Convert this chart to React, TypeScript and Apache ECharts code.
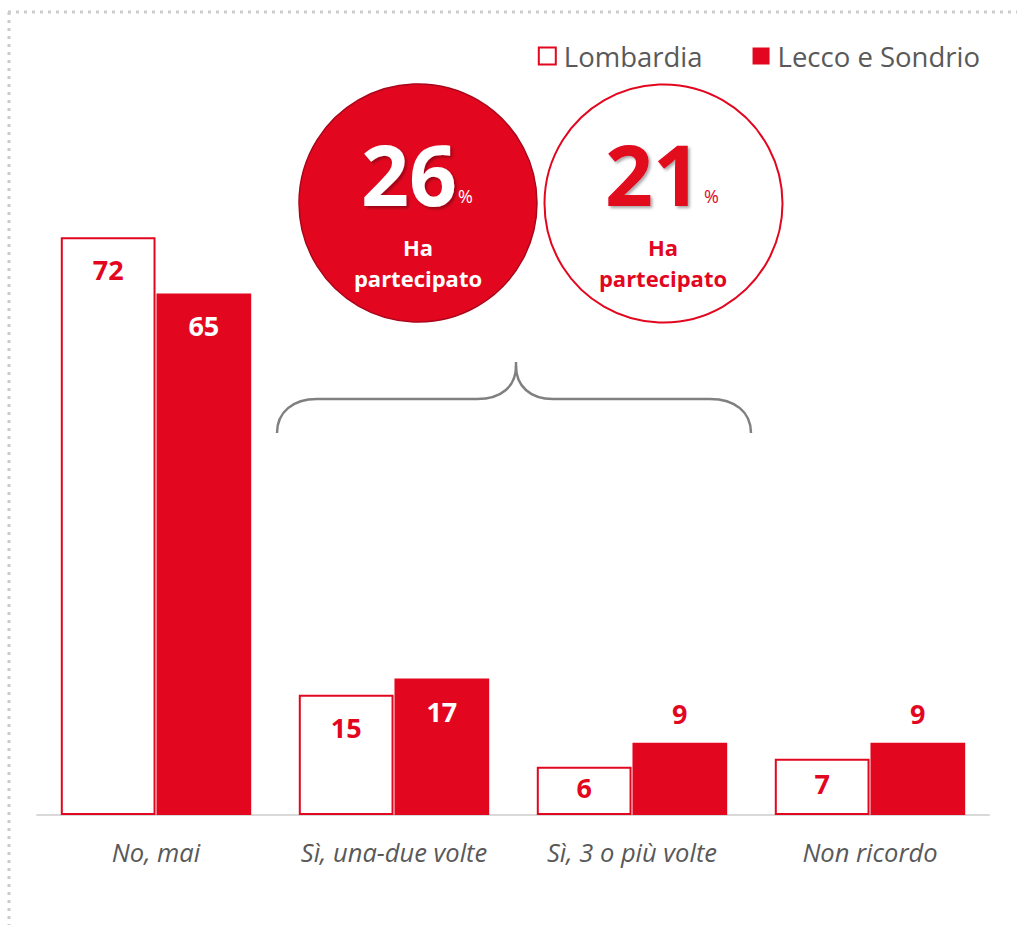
import React, { useEffect, useRef } from "react";
import * as echarts from "echarts";

const categories = ["No, mai", "Sì, una-due volte", "Sì, 3 o più volte", "Non ricordo"];
const seriesNames = ["Lombardia", "Lecco e Sondrio"];
const lombardia = [72, 15, 6, 7];
const leccoSondrio = [65, 17, 9, 9];
const participatedLecco = 26;
const participatedLombardia = 21;
const participatedLabel = "Ha\npartecipato";

const RED = "#e2071f";
const GRAY_TEXT = "#595959";
const FONT = "'Open Sans', 'Noto Sans', sans-serif";

export default function App() {
  const ref = useRef<HTMLDivElement>(null);
  useEffect(() => {
    if (!ref.current) return;
    const chart = echarts.init(ref.current, undefined, { renderer: "svg" });

    const lombData = lombardia.map((v) => ({
      value: v,
      label:
        v < 12
          ? { position: "inside", offset: [0, -3] }
          : { position: "insideTop", distance: 19 },
    }));
    const leccoData = leccoSondrio.map((v) => ({
      value: v,
      label:
        v < 12
          ? { position: "top", distance: 16, color: RED }
          : { position: "insideTop", distance: 19, color: "#ffffff" },
    }));

    const bigNum = (x: number, y: number, txt: string, color: string) => ({
      type: "text",
      x,
      y,
      style: {
        text: txt,
        fill: color,
        font: `bold 84px ${FONT}`,
        textAlign: "center",
        textVerticalAlign: "middle",
        textShadowColor: "rgba(0,0,0,0.35)",
        textShadowBlur: 3,
        textShadowOffsetX: 2,
        textShadowOffsetY: 2,
      },
      z: 20,
    });
    const pct = (x: number, y: number, color: string) => ({
      type: "text",
      x,
      y,
      style: {
        text: "%",
        fill: color,
        font: `18px ${FONT}`,
        textAlign: "left",
        textVerticalAlign: "middle",
      },
      z: 20,
    });
    const sub = (x: number, y: number, color: string) => ({
      type: "text",
      x,
      y,
      style: {
        text: participatedLabel,
        fill: color,
        font: `bold 22px ${FONT}`,
        lineHeight: 31,
        textAlign: "center",
        textVerticalAlign: "middle",
      },
      z: 20,
    });

    const braceStyle = { stroke: "#808080", lineWidth: 2.5, fill: "none" };

    chart.setOption({
      animation: false,
      textStyle: { fontFamily: FONT },
      legend: {
        data: seriesNames,
        right: 32,
        top: 37,
        icon: "rect",
        itemWidth: 17,
        itemHeight: 17,
        itemGap: 50,
        textStyle: { fontSize: 27.5, color: GRAY_TEXT, fontFamily: FONT, padding: [0, 0, 0, 3] },
      },
      grid: { left: 37, right: 28, top: 173, bottom: 110, containLabel: false },
      xAxis: {
        type: "category",
        data: categories,
        axisLine: { lineStyle: { color: "#d9d9d9", width: 2 } },
        axisTick: { show: false },
        axisLabel: {
          color: GRAY_TEXT,
          fontSize: 25.5,
          fontStyle: "italic",
          fontFamily: FONT,
          margin: 24,
          interval: 0,
        },
      },
      yAxis: {
        type: "value",
        min: 0,
        max: 80,
        show: false,
        splitLine: { show: false },
      },
      series: [
        {
          name: seriesNames[0],
          type: "bar",
          data: lombData,
          barCategoryGap: "20%",
          barGap: "1%",
          itemStyle: { color: "#ffffff", borderColor: RED, borderWidth: 2 },
          label: {
            show: true,
            color: RED,
            fontSize: 27,
            fontWeight: "bold",
            fontFamily: FONT,
          },
        },
        {
          name: seriesNames[1],
          type: "bar",
          data: leccoData,
          barCategoryGap: "20%",
          barGap: "1%",
          itemStyle: { color: RED },
          label: {
            show: true,
            color: "#ffffff",
            fontSize: 27,
            fontWeight: "bold",
            fontFamily: FONT,
          },
        },
      ],
      graphic: [
        {
          type: "line",
          shape: { x1: 8, y1: 12, x2: 1017, y2: 12 },
          style: { stroke: "#cccccc", lineWidth: 3, lineDash: [3, 5] },
          silent: true,
        },
        {
          type: "line",
          shape: { x1: 9, y1: 12, x2: 9, y2: 925 },
          style: { stroke: "#cccccc", lineWidth: 3, lineDash: [3, 5] },
          silent: true,
        },
        {
          type: "circle",
          shape: { cx: 418, cy: 203, r: 119 },
          style: { fill: RED, stroke: "#a9061b", lineWidth: 1.5 },
          z: 10,
        },
        {
          type: "circle",
          shape: { cx: 663.5, cy: 203.5, r: 119 },
          style: { fill: "#ffffff", stroke: RED, lineWidth: 2 },
          z: 10,
        },
        bigNum(409, 173, String(participatedLecco), "#ffffff"),
        pct(458, 196, "#ffffff"),
        sub(418, 262, "#ffffff"),
        bigNum(653, 173, String(participatedLombardia), RED),
        pct(704, 196, RED),
        sub(663, 262, RED),
        {
          type: "bezierCurve",
          shape: { x1: 277, y1: 433, cpx1: 277, cpy1: 412, cpx2: 293, cpy2: 399, x2: 317, y2: 399 },
          style: braceStyle,
        },
        {
          type: "line",
          shape: { x1: 317, y1: 399, x2: 477, y2: 399 },
          style: braceStyle,
        },
        {
          type: "bezierCurve",
          shape: { x1: 477, y1: 399, cpx1: 502, cpy1: 399, cpx2: 516, cpy2: 386, x2: 516, y2: 366 },
          style: braceStyle,
        },
        {
          type: "line",
          shape: { x1: 516, y1: 366, x2: 516, y2: 362 },
          style: braceStyle,
        },
        {
          type: "bezierCurve",
          shape: { x1: 516, y1: 366, cpx1: 516, cpx2: 530, cpy1: 386, cpy2: 399, x2: 553, y2: 399 },
          style: braceStyle,
        },
        {
          type: "line",
          shape: { x1: 553, y1: 399, x2: 710, y2: 399 },
          style: braceStyle,
        },
        {
          type: "bezierCurve",
          shape: { x1: 710, y1: 399, cpx1: 735, cpy1: 399, cpx2: 751, cpy2: 412, x2: 751, y2: 433 },
          style: braceStyle,
        },
      ],
    });
    return () => chart.dispose();
  }, []);

  return (
    <div
      ref={ref}
      style={{ position: "absolute", left: 0, top: 0, width: 1017, height: 925, background: "#ffffff" }}
    />
  );
}
